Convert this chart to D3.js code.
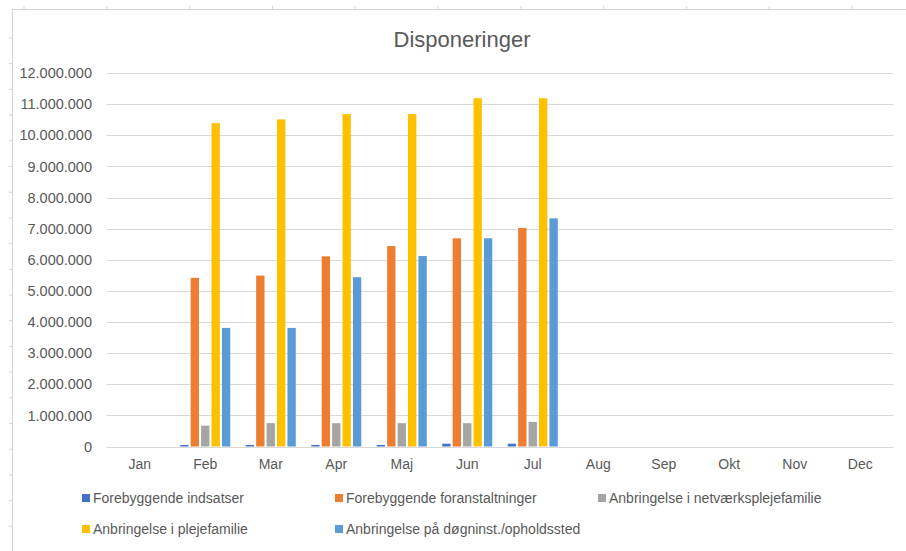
<!DOCTYPE html>
<html>
<head>
<meta charset="utf-8">
<script src="https://cdn.jsdelivr.net/npm/d3@7"></script>
<style>
  body { margin: 0; background: #fff; }
  text { font-family: "Liberation Sans", Arial, sans-serif; fill: #595959; }
</style>
</head>
<body>
<div id="chart"></div>
<script>
var months = ["Jan", "Feb", "Mar", "Apr", "Maj", "Jun", "Jul", "Aug", "Sep", "Okt", "Nov", "Dec"]
var seriesNames = [
    "Forebyggende indsatser",
    "Forebyggende foranstaltninger",
    "Anbringelse i netværksplejefamilie",
    "Anbringelse i plejefamilie",
    "Anbringelse på døgninst./opholdssted"
]
var colors = ["#4472C4", "#ED7D31", "#A5A5A5", "#FFC000", "#5B9BD5"]

// values per month Jan..Jul (Aug-Dec empty)
var forebyggendeIndsatser = [0, 50000, 50000, 50000, 50000, 90000, 90000]
var forebyggendeForanst = [0, 5420000, 5490000, 6110000, 6440000, 6690000, 7020000]
var netvaerksplejefamilie = [0, 670000, 750000, 750000, 750000, 750000, 790000]
var plejefamilie = [0, 10390000, 10510000, 10680000, 10680000, 11190000, 11190000]
var doegninst = [0, 3810000, 3810000, 5440000, 6120000, 6690000, 7330000]
var yTicks = d3.range(0, 12000001, 1000000)

var seriesValues = [forebyggendeIndsatser, forebyggendeForanst, netvaerksplejefamilie, plejefamilie, doegninst]

var W = 906, H = 551
var margin = { top: 73, left: 107, right: 13, bottom: 104.5 }

var svg = d3.select("#chart").append("svg")
    .attr("width", W)
    .attr("height", H)

// spreadsheet edge behind the chart
var sheet = svg.append("g").attr("stroke", "#d4d4d4")
sheet.append("line").attr("x1", 12).attr("x2", W).attr("y1", 9.5).attr("y2", 9.5)
sheet.append("line").attr("x1", 12.5).attr("x2", 12.5).attr("y1", 9).attr("y2", H)
d3.range(24, W, 82.8).forEach(function (x) {
    sheet.append("line").attr("x1", x).attr("x2", x).attr("y1", 6).attr("y2", 9)
})
d3.range(38, H, 25.7).forEach(function (y) {
    sheet.append("line").attr("x1", 9).attr("x2", 12).attr("y1", y).attr("y2", y)
})

var x0 = d3.scaleBand()
    .domain(months)
    .range([margin.left, W - margin.right])
    .paddingInner(0.236)
    .paddingOuter(0.118)

var x1 = d3.scaleBand()
    .domain(d3.range(seriesNames.length))
    .range([0, x0.bandwidth()])
    .paddingInner(0.2)

var y = d3.scaleLinear()
    .domain([0, 12000000])
    .range([H - margin.bottom, margin.top])

var fmt = function (v) { return d3.format(",")(v).replace(/,/g, ".") }

// gridlines
svg.append("g")
    .selectAll("line")
    .data(yTicks)
    .join("line")
    .attr("x1", margin.left)
    .attr("x2", W - margin.right)
    .attr("y1", function (d) { return Math.round(y(d)) + 0.5 })
    .attr("y2", function (d) { return Math.round(y(d)) + 0.5 })
    .attr("stroke", "#d9d9d9")
    .attr("stroke-width", 1.2)

// y axis labels
var yAxis = svg.append("g")
    .attr("transform", "translate(" + (margin.left - 15) + ",0)")
    .call(d3.axisLeft(y).tickValues(yTicks).tickFormat(fmt).tickSize(0).tickPadding(0))
yAxis.select(".domain").remove()
yAxis.selectAll("text").attr("font-size", 14.5)

// x axis labels
var xAxis = svg.append("g")
    .attr("transform", "translate(0," + (H - margin.bottom) + ")")
    .call(d3.axisBottom(x0.copy().paddingInner(0).paddingOuter(0)).tickSize(0).tickPadding(13))
xAxis.select(".domain").remove()
xAxis.selectAll("text").attr("font-size", 14)

// bars
var groups = svg.append("g")
    .selectAll("g")
    .data(months)
    .join("g")
    .attr("transform", function (m) { return "translate(" + x0(m) + ",0)" })

groups.selectAll("rect")
    .data(function (m, i) {
        return seriesValues.map(function (vals, s) { return { s: s, v: vals[i] } })
            .filter(function (d) { return d.v != null && d.v > 0 })
    })
    .join("rect")
    .attr("x", function (d) { return x1(d.s) })
    .attr("width", x1.bandwidth())
    .attr("y", function (d) { return y(d.v) })
    .attr("height", function (d) { return y(0) - y(d.v) })
    .attr("fill", function (d) { return colors[d.s] })

// title
svg.append("text")
    .attr("x", 462)
    .attr("y", 47)
    .attr("text-anchor", "middle")
    .attr("font-size", 22)
    .text("Disponeringer")

// legend
var legendPos = [[82, 498], [335, 498], [598, 498], [82, 529], [335, 529]]
var legend = svg.append("g")
    .selectAll("g")
    .data(seriesNames)
    .join("g")
    .attr("transform", function (d, i) { return "translate(" + legendPos[i][0] + "," + legendPos[i][1] + ")" })

legend.append("rect")
    .attr("x", 0).attr("y", -4)
    .attr("width", 8).attr("height", 8)
    .attr("fill", function (d, i) { return colors[i] })

legend.append("text")
    .attr("x", 11)
    .attr("dy", "0.35em")
    .attr("font-size", 14)
    .text(function (d) { return d })
</script>
</body>
</html>
